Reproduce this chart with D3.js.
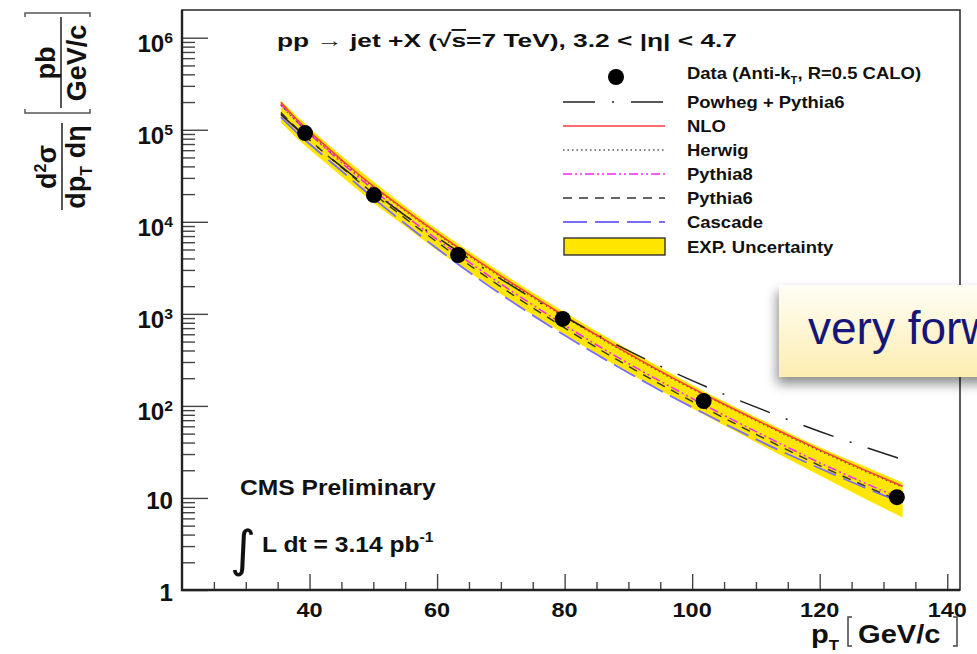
<!DOCTYPE html>
<html><head><meta charset="utf-8">
<script src="https://cdn.jsdelivr.net/npm/d3@7/dist/d3.min.js"></script>
<style>
body{margin:0;background:#fff;}
svg{display:block;}
text{font-family:"Liberation Sans",Arial,Helvetica,sans-serif;font-weight:bold;fill:#111;}
</style>
</head><body>
<svg id="c" width="977" height="654"></svg>
<script>
// ---------------- data ----------------
const ptGrid   = [35.5, 38, 42, 46, 50, 55, 60, 66, 72, 80, 88, 96, 104, 112, 120, 127, 133];
const nloVals  = [1.99e5, 1.29e5, 7.21e4, 4.11e4, 2.44e4, 1.35e4, 7590, 3930, 2100, 948, 447, 219, 113, 60.5, 33.3, 20.2, 13.4];
const herwig   = [1.85e5, 1.23e5, 6.89e4, 4.02e4, 2.39e4, 1.32e4, 7410, 3840, 2050, 927, 437, 214, 111, 59.2, 32.5, 19.7, 13.1];
const pythia8  = [1.90e5, 1.23e5, 6.73e4, 3.84e4, 2.23e4, 1.17e4, 6460, 3270, 1710, 753, 347, 170, 85.9, 44.9, 24.1, 14.6, 9.70];
const pythia6  = [1.54e5, 1.04e5, 5.86e4, 3.42e4, 2.03e4, 1.09e4, 6030, 3050, 1590, 703, 324, 158, 80.2, 41.9, 22.5, 13.6, 9.06];
const cascade  = [1.37e5, 9.31e4, 5.35e4, 3.12e4, 1.81e4, 9530, 5130, 2540, 1320, 585, 275, 135, 69.8, 37.3, 21.0, 13.0, 8.85];
const powheg   = [1.47e5, 1.02e5, 5.86e4, 3.50e4, 2.13e4, 1.17e4, 6760, 3580, 1960, 927, 468, 251, 143, 85.5, 52.7, 35.9, 26.1];
const bandHigh = [2.08e5, 1.41e5, 7.91e4, 4.61e4, 2.74e4, 1.48e4, 8320, 4310, 2300, 1040, 490, 240, 121, 64.9, 35.6, 22.1, 14.7];
const bandLow  = [1.20e5, 8.11e4, 4.66e4, 2.72e4, 1.61e4, 8890, 4900, 2540, 1320, 598, 275, 135, 66.7, 34.0, 17.5, 9.89, 6.12];
const dataPt   = [39.3, 50.1, 63.3, 79.7, 101.8, 132.1];
const dataVal  = [92000, 19500, 4360, 880, 113, 10.2];
const xTickVals = [40, 60, 80, 100, 120, 140];
const yTickExps = [0, 1, 2, 3, 4, 5, 6];
const legendLabels = ["Powheg + Pythia6", "NLO", "Herwig", "Pythia8", "Pythia6", "Cascade"];

// ---------------- setup ----------------
const svg = d3.select("#c");
const SX = 1.12;
const x = d3.scaleLinear().domain([20, 142]).range([182, 960]);
const y = d3.scaleLog().domain([1, 2e6]).range([590, 10]);

const defs = svg.append("defs");
defs.append("clipPath").attr("id", "plotclip").append("rect")
  .attr("x", 182).attr("y", 10).attr("width", 778).attr("height", 580);
const grad = defs.append("linearGradient").attr("id", "bx")
  .attr("x1", 0).attr("y1", 0).attr("x2", 0).attr("y2", 1);
grad.append("stop").attr("offset", "0%").attr("stop-color", "#fffef6");
grad.append("stop").attr("offset", "100%").attr("stop-color", "#fcedb0");
const filt = defs.append("filter").attr("id", "sh")
  .attr("x", "-20%").attr("y", "-30%").attr("width", "140%").attr("height", "170%");
filt.append("feDropShadow").attr("dx", -2).attr("dy", 7).attr("stdDeviation", 6)
  .attr("flood-color", "#000").attr("flood-opacity", 0.45);

function stext(g, tx, ty, anchor, size, sx) {
  return g.append("text")
    .attr("transform", `translate(${tx},${ty}) scale(${sx === undefined ? SX : sx},1)`)
    .attr("text-anchor", anchor).attr("font-size", size);
}

// ---------------- plot content ----------------
const plot = svg.append("g").attr("clip-path", "url(#plotclip)");

const band = d3.area()
  .x((d, i) => x(ptGrid[i]))
  .y0((d, i) => y(bandLow[i]))
  .y1((d, i) => y(bandHigh[i]))
  .curve(d3.curveMonotoneX);
plot.append("path").datum(ptGrid).attr("d", band).attr("fill", "#ffe600");

const models = [
  {vals: cascade, color: "#7a6cff", dash: "24,8", w: 1.8},
  {vals: pythia6, color: "#333",    dash: "9,7",  w: 1.4},
  {vals: pythia8, color: "#ff22ff", dash: "9,3,2,3,2,3", w: 1.5},
  {vals: herwig,  color: "#555",    dash: "1.5,3", w: 1.5},
  {vals: nloVals, color: "#ff3b3b", dash: null, w: 1.5},
  {vals: powheg,  color: "#222",    dash: "32,17,2,17", w: 1.5}
];
const lineGen = vals => d3.line()
  .x((d, i) => x(ptGrid[i]))
  .y((d, i) => y(vals[i]))
  .curve(d3.curveMonotoneX)(ptGrid);
models.forEach(m => {
  plot.append("path").attr("d", lineGen(m.vals)).attr("fill", "none")
    .attr("stroke", m.color).attr("stroke-width", m.w)
    .attr("stroke-dasharray", m.dash);
});

plot.selectAll("circle.d").data(dataPt).enter().append("circle")
  .attr("cx", d => x(d)).attr("cy", (d, i) => y(dataVal[i])).attr("r", 8).attr("fill", "#000");

// ---------------- axes ----------------
const xMinor = d3.range(25, 141, 5).filter(v => v % 20 !== 0);
function styleAxis(g) {
  g.select(".domain").remove();
  g.selectAll(".tick line").attr("stroke", "#444").attr("stroke-width", 1.4);
}
svg.append("g").attr("transform", "translate(0,590)")
  .call(d3.axisTop(x).tickValues(xMinor).tickSize(8).tickFormat("")).call(styleAxis);
svg.append("g").attr("transform", "translate(0,590)")
  .call(d3.axisTop(x).tickValues(xTickVals).tickSize(16).tickFormat("")).call(styleAxis);

const yMinor = [];
for (let d = 0; d < 6; d++) for (let m = 2; m <= 9; m++) yMinor.push(m * Math.pow(10, d));
const yMajor = yTickExps.map(e => Math.pow(10, e));
svg.append("g").attr("transform", "translate(182,0)")
  .call(d3.axisRight(y).tickValues(yMinor).tickSize(13).tickFormat("")).call(styleAxis);
svg.append("g").attr("transform", "translate(182,0)")
  .call(d3.axisRight(y).tickValues(yMajor).tickSize(26).tickFormat("")).call(styleAxis);

// frame
svg.append("rect").attr("x", 182).attr("y", 10).attr("width", 778).attr("height", 580)
  .attr("fill", "none").attr("stroke", "#333").attr("stroke-width", 1.6);
svg.append("path").attr("d", "M182,10 V590 H960").attr("fill", "none")
  .attr("stroke", "#222").attr("stroke-width", 2.4);

// x tick labels
xTickVals.forEach(v => {
  stext(svg, x(v), 617, "middle", 21).text(v);
});
// y tick labels
yTickExps.forEach(e => {
  const ty = y(Math.pow(10, e));
  if (e === 0) {
    stext(svg, 173, ty + 11, "end", 23, 1.05).text("1");
  } else if (e === 1) {
    stext(svg, 173, ty + 11, "end", 23, 1.05).text("10");
  } else {
    const t = stext(svg, 173, ty + 14, "end", 23, 1.05);
    t.append("tspan").text("10");
    t.append("tspan").attr("font-size", 15).attr("dy", -9).text(e);
  }
});

// x axis title
const xt = stext(svg, 811, 643, "start", 26);
xt.append("tspan").text("p");
xt.append("tspan").attr("font-size", 15).attr("dy", 7).text("T");
svg.append("path").attr("d", "M852,617 H848 V646 H852").attr("fill", "none").attr("stroke", "#444").attr("stroke-width", 1.5);
stext(svg, 858, 643, "start", 26).text("GeV/c");
svg.append("path").attr("d", "M953,617 H957 V646 H953").attr("fill", "none").attr("stroke", "#444").attr("stroke-width", 1.5);

// y axis title (rotated)
const yl = svg.append("g").attr("transform", "translate(62,210) rotate(-90)");
yl.append("line").attr("x1", 0).attr("x2", 87).attr("y1", 0).attr("y2", 0).attr("stroke", "#444").attr("stroke-width", 1.8);
const num = yl.append("text").attr("x", 43).attr("y", -6).attr("text-anchor", "middle").attr("font-size", 27);
num.append("tspan").text("d");
num.append("tspan").attr("font-size", 16).attr("dy", -10).text("2");
num.append("tspan").attr("dy", 10).text("σ");
const den = yl.append("text").attr("x", 43).attr("y", 23).attr("text-anchor", "middle").attr("font-size", 27);
den.append("tspan").text("dp");
den.append("tspan").attr("font-size", 16).attr("dy", 7).text("T");
den.append("tspan").attr("dy", -7).text(" dη");
yl.append("path").attr("d", "M101,-37 H97 V28 H101").attr("fill", "none").attr("stroke", "#555").attr("stroke-width", 1.5);
yl.append("path").attr("d", "M193,-37 H197 V28 H193").attr("fill", "none").attr("stroke", "#555").attr("stroke-width", 1.5);
yl.append("line").attr("x1", 102).attr("x2", 193).attr("y1", -1).attr("y2", -1).attr("stroke", "#444").attr("stroke-width", 1.8);
yl.append("text").attr("x", 147).attr("y", -7).attr("text-anchor", "middle").attr("font-size", 27).text("pb");
yl.append("text").attr("x", 147).attr("y", 24).attr("text-anchor", "middle").attr("font-size", 27).text("GeV/c");

// title
const title = svg.append("text").attr("x", 277).attr("y", 47).attr("font-size", 19)
  .attr("textLength", 460).attr("lengthAdjust", "spacingAndGlyphs");
title.append("tspan").text("pp → jet +X (√");
title.append("tspan").attr("text-decoration", "overline").text("s");
title.append("tspan").text("=7 TeV), 3.2 < |η| < 4.7");

// legend
const legX0 = 563, legX1 = 665, legTX = 687;
const legRowY = [102, 126, 150, 174, 198, 222];
svg.append("circle").attr("cx", 616).attr("cy", 77).attr("r", 8).attr("fill", "#000");
const dl = stext(svg, legTX, 79, "start", 16.5);
dl.append("tspan").text("Data (Anti-k");
dl.append("tspan").attr("font-size", 10).attr("dy", 5).text("T");
dl.append("tspan").attr("dy", -5).text(", R=0.5 CALO)");
const legStyles = [models[5], models[4], models[3], models[2], models[1], models[0]];
legendLabels.forEach((lab, i) => {
  const st = legStyles[i];
  svg.append("line").attr("x1", legX0).attr("x2", legX1).attr("y1", legRowY[i]).attr("y2", legRowY[i])
    .attr("stroke", st.color).attr("stroke-width", st.w).attr("stroke-dasharray", st.dash);
  stext(svg, legTX, legRowY[i] + 6, "start", 16.5).text(lab);
});
svg.append("rect").attr("x", 564).attr("y", 238).attr("width", 101).attr("height", 17)
  .attr("fill", "#ffe600").attr("stroke", "#333").attr("stroke-width", 1.4);
stext(svg, legTX, 253, "start", 16.5).text("EXP. Uncertainty");

// CMS text
stext(svg, 240, 495, "start", 22).text("CMS Preliminary");
svg.append("text").attr("x", 230).attr("y", 566).attr("font-size", 50)
  .style("font-family", "DejaVu Sans").style("font-weight", "normal").text("∫");
const lum = stext(svg, 262, 552, "start", 22);
lum.append("tspan").text("L dt = 3.14 pb");
lum.append("tspan").attr("font-size", 14).attr("dy", -10).text("-1");

// overlay box
svg.append("rect").attr("x", 779).attr("y", 285).attr("width", 230).attr("height", 92)
  .attr("fill", "url(#bx)").attr("filter", "url(#sh)");
svg.append("text").attr("x", 808).attr("y", 344).attr("font-size", 46)
  .style("font-weight", "normal").style("fill", "#16167a").text("very forward");
</script>
</body></html>
